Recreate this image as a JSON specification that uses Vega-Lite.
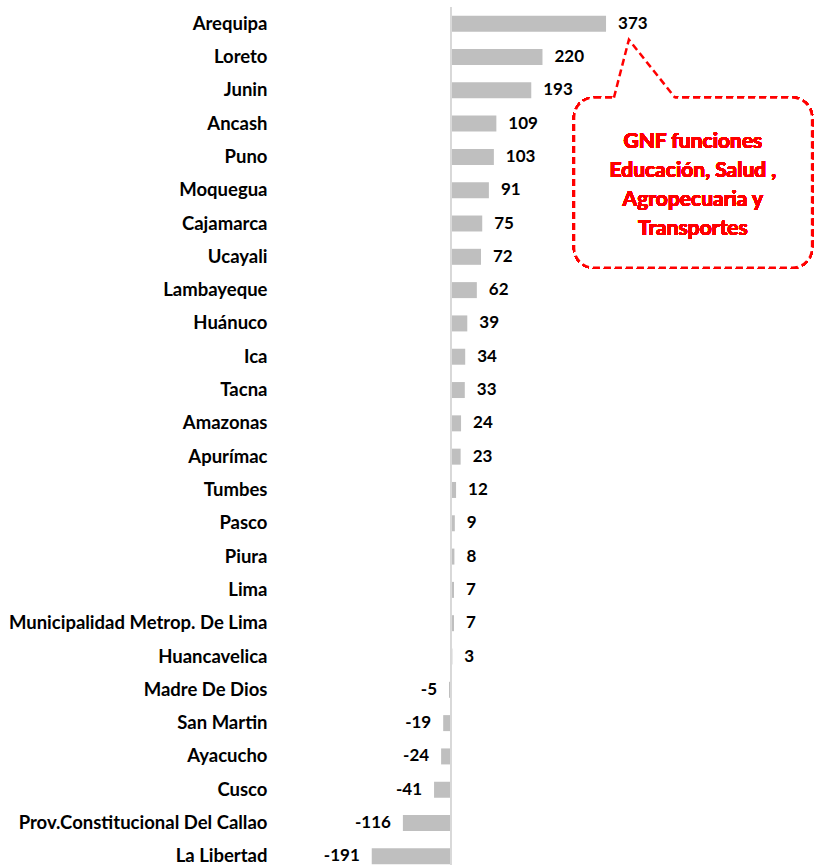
{
  "$schema": "https://vega.github.io/schema/vega-lite/v6.json",
  "autosize": {"type": "none"},
  "width": 447,
  "height": 866,
  "padding": {"left": 368, "top": 7, "right": 0, "bottom": 0},
  "background": "white",
  "config": {"view": {"stroke": null}, "font": "Lato"},
  "data": {
    "values": [
      {"region": "Arequipa", "value": 373},
      {"region": "Loreto", "value": 220},
      {"region": "Junin", "value": 193},
      {"region": "Ancash", "value": 109},
      {"region": "Puno", "value": 103},
      {"region": "Moquegua", "value": 91},
      {"region": "Cajamarca", "value": 75},
      {"region": "Ucayali", "value": 72},
      {"region": "Lambayeque", "value": 62},
      {"region": "Huánuco", "value": 39},
      {"region": "Ica", "value": 34},
      {"region": "Tacna", "value": 33},
      {"region": "Amazonas", "value": 24},
      {"region": "Apurímac", "value": 23},
      {"region": "Tumbes", "value": 12},
      {"region": "Pasco", "value": 9},
      {"region": "Piura", "value": 8},
      {"region": "Lima", "value": 7},
      {"region": "Municipalidad Metrop. De Lima", "value": 7},
      {"region": "Huancavelica", "value": 3},
      {"region": "Madre De Dios", "value": -5},
      {"region": "San Martin", "value": -19},
      {"region": "Ayacucho", "value": -24},
      {"region": "Cusco", "value": -41},
      {"region": "Prov.Constitucional Del Callao", "value": -116},
      {"region": "La Libertad", "value": -191}
    ]
  },
  "layer": [
    {
      "encoding": {
        "y": {
          "field": "region",
          "type": "nominal",
          "sort": ["Arequipa", "Loreto", "Junin", "Ancash", "Puno", "Moquegua", "Cajamarca", "Ucayali", "Lambayeque", "Huánuco", "Ica", "Tacna", "Amazonas", "Apurímac", "Tumbes", "Pasco", "Piura", "Lima", "Municipalidad Metrop. De Lima", "Huancavelica", "Madre De Dios", "San Martin", "Ayacucho", "Cusco", "Prov.Constitucional Del Callao", "La Libertad"],
          "scale": {"paddingInner": 0.52, "paddingOuter": 0.26},
          "axis": {
            "title": null,
            "domain": false,
            "ticks": false,
            "labelPadding": 101,
            "labelFontSize": 18.5,
            "labelFontWeight": "bold",
            "labelColor": "#000000",
            "labelFont": "Lato",
            "labelLimit": 400
          }
        },
        "x": {
          "field": "value",
          "type": "quantitative",
          "scale": {"domain": [-200, 876], "nice": false, "zero": false},
          "axis": null
        }
      },
      "layer": [
        {"mark": {"type": "bar", "color": "#bfbfbf"}},
        {
          "transform": [{"filter": "datum.value >= 0"}],
          "mark": {"type": "text", "align": "left", "dx": 12, "fontSize": 17, "fontWeight": "bold", "color": "#000000", "font": "Lato"},
          "encoding": {"text": {"field": "value", "type": "nominal"}}
        },
        {
          "transform": [{"filter": "datum.value < 0"}],
          "mark": {"type": "text", "align": "right", "dx": -12, "fontSize": 17, "fontWeight": "bold", "color": "#000000", "font": "Lato"},
          "encoding": {"text": {"field": "value", "type": "nominal"}}
        },
        {
          "mark": {"type": "rule", "color": "#d9d9d9", "strokeWidth": 1.5},
          "encoding": {"x": {"datum": 0}, "y": null}
        }
      ]
    },
    {
      "encoding": {
        "y": {"type": "quantitative", "scale": {"domain": [0, 26], "reverse": true, "nice": false, "zero": false}, "axis": null}
      },
      "layer": [
        {
          "mark": {"type": "rect", "fill": "white", "stroke": "#ff0000", "strokeWidth": 2.5, "strokeDash": [7, 4], "cornerRadius": 20},
          "encoding": {
            "x": {"datum": 296, "type": "quantitative"},
            "x2": {"datum": 869},
            "y": {"datum": 2.72, "type": "quantitative"},
            "y2": {"datum": 7.83}
          }
        },
        {
          "data": {"values": [{"k": 0, "px": 393, "py": 2.72}, {"k": 1, "px": 538, "py": 2.72}]},
          "mark": {"type": "line", "color": "white", "strokeWidth": 5},
          "encoding": {
            "x": {"field": "px", "type": "quantitative"},
            "y": {"field": "py", "type": "quantitative"},
            "order": {"field": "k"}
          }
        },
        {
          "data": {"values": [{"k": 0, "px": 392, "py": 2.72}, {"k": 1, "px": 428, "py": 0.98}, {"k": 2, "px": 539, "py": 2.72}]},
          "mark": {"type": "line", "color": "#ff0000", "strokeWidth": 2.5, "strokeDash": [7, 4]},
          "encoding": {
            "x": {"field": "px", "type": "quantitative"},
            "y": {"field": "py", "type": "quantitative"},
            "order": {"field": "k"}
          }
        },
        {
          "mark": {"type": "text", "align": "center", "baseline": "middle", "fontSize": 21, "fontWeight": "bold", "color": "#ff0000", "font": "Lato", "lineBreak": "\n", "lineHeight": 29},
          "encoding": {
            "x": {"datum": 582, "type": "quantitative"},
            "y": {"datum": 4.05, "type": "quantitative"},
            "text": {"value": "GNF funciones\nEducación, Salud ,\nAgropecuaria y\nTransportes"}
          }
        }
      ]
    }
  ],
  "resolve": {"scale": {"y": "independent"}, "axis": {"y": "independent"}}
}
